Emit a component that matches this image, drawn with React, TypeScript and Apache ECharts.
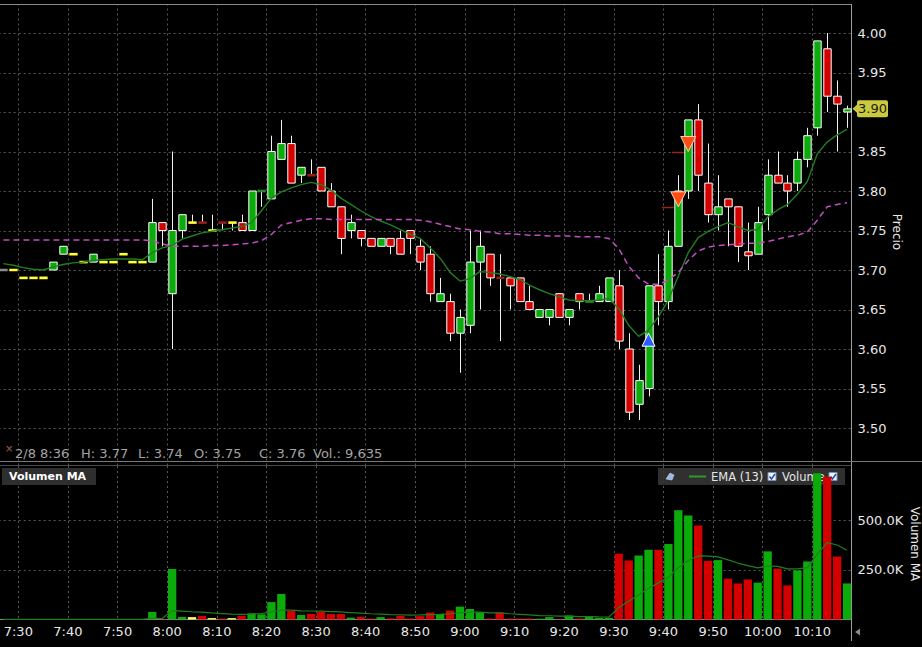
import React, { useEffect, useRef } from 'react';
import * as echarts from 'echarts';

// ---- data (2-minute candles, first one starts 7:26) ----
const START_MIN = 446; // 7:26
const STEP = 2;
const infoDate = '2/8';
const infoIndex = 35; // 8:36 candle shown in the info line

const open = [3.70,3.70,3.69,3.69,3.69,3.70,3.72,3.72,3.71,3.71,
  3.71,3.71,3.72,3.71,3.71,3.71,3.76,3.67,3.75,3.76,
  3.76,3.75,3.76,3.76,3.76,3.75,3.80,3.79,3.84,3.86,
  3.82,3.82,3.83,3.80,3.78,3.75,3.75,3.74,3.73,3.74,
  3.74,3.75,3.73,3.72,3.66,3.66,3.62,3.63,3.71,3.72,
  3.69,3.69,3.69,3.66,3.64,3.64,3.67,3.64,3.67,3.66,
  3.66,3.66,3.68,3.60,3.53,3.55,3.68,3.66,3.73,3.80,
  3.89,3.81,3.77,3.79,3.78,3.723,3.72,3.77,3.82,3.81,
  3.81,3.84,3.88,3.98,3.92,3.90];
const high = [3.70,3.70,3.69,3.69,3.69,3.71,3.73,3.72,3.71,3.72,
  3.71,3.71,3.72,3.71,3.71,3.79,3.76,3.85,3.77,3.77,
  3.77,3.77,3.76,3.76,3.77,3.80,3.80,3.87,3.89,3.87,
  3.83,3.84,3.83,3.81,3.78,3.77,3.75,3.74,3.74,3.74,
  3.75,3.75,3.74,3.73,3.69,3.67,3.65,3.75,3.75,3.72,
  3.72,3.69,3.69,3.68,3.65,3.65,3.67,3.65,3.67,3.67,
  3.68,3.69,3.70,3.62,3.58,3.68,3.72,3.75,3.82,3.89,
  3.91,3.86,3.82,3.79,3.78,3.76,3.78,3.84,3.85,3.82,
  3.85,3.88,3.99,4.00,3.94,3.908];
const low = [3.70,3.70,3.69,3.69,3.69,3.70,3.72,3.72,3.71,3.71,
  3.71,3.71,3.72,3.71,3.71,3.71,3.73,3.60,3.74,3.76,
  3.76,3.75,3.75,3.75,3.75,3.75,3.78,3.79,3.84,3.81,
  3.81,3.82,3.80,3.78,3.72,3.74,3.73,3.73,3.73,3.72,
  3.72,3.72,3.70,3.66,3.66,3.61,3.57,3.62,3.65,3.68,
  3.61,3.65,3.66,3.65,3.64,3.63,3.64,3.63,3.65,3.66,
  3.66,3.66,3.60,3.51,3.51,3.54,3.63,3.65,3.73,3.79,
  3.80,3.76,3.75,3.73,3.71,3.70,3.72,3.75,3.81,3.78,
  3.80,3.83,3.87,3.90,3.85,3.88];
const close = [3.70,3.70,3.69,3.69,3.69,3.71,3.73,3.72,3.71,3.72,
  3.71,3.71,3.72,3.71,3.71,3.76,3.75,3.75,3.77,3.76,
  3.76,3.75,3.76,3.76,3.75,3.80,3.80,3.85,3.86,3.81,
  3.83,3.82,3.80,3.78,3.74,3.76,3.74,3.73,3.74,3.73,
  3.72,3.74,3.71,3.67,3.67,3.62,3.64,3.71,3.73,3.69,
  3.69,3.68,3.66,3.65,3.65,3.65,3.64,3.65,3.66,3.66,
  3.67,3.69,3.61,3.52,3.56,3.68,3.66,3.73,3.80,3.89,
  3.82,3.77,3.78,3.78,3.73,3.718,3.76,3.82,3.81,3.80,
  3.84,3.87,3.99,3.92,3.91,3.904];
const volume = [0,0,0,0,0,800,800,0,0,800,
  0,0,0,0,0,38000,1500,255000,13000,12000,
  18000,7000,5000,7000,19000,31000,26000,88000,129000,43000,
  23000,28000,38000,28000,28000,9635,14000,5000,12000,6000,
  19000,5000,17000,35000,28000,45000,65000,53000,36000,5000,
  36000,5000,5000,5000,4000,12000,1500,20000,5000,15000,
  8000,8000,332000,298000,323000,352000,352000,381000,551000,525000,
  474000,296000,300000,206000,182000,202000,186000,344000,257000,172000,
  248000,293000,738000,721000,318000,182000];
const volumeEma = [1000,1000,1000,1000,1000,1000,1000,1000,1000,1000,
  1000,1000,1000,1000,1000,6000,5000,45000,42000,39000,
  37000,33000,30000,27000,26000,27000,30000,38000,48000,47000,
  44000,43000,42000,40000,38000,35000,32000,29000,27000,25000,
  24000,22000,23000,25000,26000,29000,34000,37000,37000,33000,
  33000,29000,26000,23000,20000,19000,17000,17000,15000,15000,
  13000,12000,60000,92000,124000,158000,185000,213000,261000,298000,
  321000,320000,316000,301000,285000,272000,261000,270000,268000,256000,
  256000,262000,330000,388000,376000,350000];
const priceEma = [3.708,3.706,3.703,3.701,3.700,3.704,3.707,3.709,3.710,3.712,
  3.713,3.714,3.714,3.714,3.713,3.722,3.728,3.731,3.739,3.743,
  3.747,3.749,3.751,3.753,3.755,3.760,3.775,3.791,3.799,3.804,
  3.808,3.811,3.808,3.801,3.791,3.783,3.775,3.768,3.762,3.757,
  3.751,3.745,3.740,3.728,3.715,3.697,3.686,3.689,3.698,3.697,
  3.695,3.692,3.688,3.681,3.675,3.670,3.666,3.662,3.661,3.661,
  3.662,3.664,3.651,3.630,3.616,3.624,3.641,3.662,3.692,3.722,
  3.741,3.749,3.755,3.760,3.755,3.750,3.751,3.767,3.776,3.783,
  3.796,3.812,3.847,3.862,3.871,3.878];
const slowAverage = [3.738,3.738,3.738,3.738,3.738,3.738,3.738,3.738,3.738,3.738,
  3.738,3.738,3.738,3.738,3.738,3.737,3.733,3.730,3.730,3.730,
  3.730,3.731,3.731,3.732,3.733,3.734,3.737,3.745,3.757,3.760,
  3.763,3.765,3.765,3.764,3.764,3.764,3.764,3.764,3.764,3.764,
  3.764,3.764,3.763,3.761,3.758,3.755,3.752,3.751,3.749,3.748,
  3.746,3.746,3.745,3.744,3.744,3.743,3.743,3.743,3.742,3.742,
  3.742,3.740,3.727,3.705,3.690,3.682,3.682,3.687,3.697,3.712,
  3.724,3.729,3.731,3.732,3.733,3.734,3.734,3.736,3.739,3.742,
  3.744,3.748,3.763,3.780,3.783,3.785];
// candles where open == close: tone of the dash
const flatTone: Record<number, string> = {
  0: 'gray', 1: 'yellow', 2: 'yellow', 3: 'yellow', 4: 'yellow', 7: 'yellow', 8: 'yellow',
  10: 'yellow', 11: 'yellow', 12: 'yellow', 13: 'yellow', 14: 'yellow', 19: 'yellow',
  20: 'darkred', 21: 'yellow', 22: 'darkred', 23: 'yellow', 26: 'darkgreen', 31: 'darkred',
  50: 'darkred', 59: 'darkgreen',
};
const buySignals = [[65, 3.62]];
const sellSignals = [[68, 3.78], [69, 3.85]];
const priceTicks = [3.5, 3.55, 3.6, 3.65, 3.7, 3.75, 3.8, 3.85, 3.9, 3.95, 4.0];
const volumeTicks = [250000, 500000];
const legendItems = ['EMA (13)', 'Volume'];

// ---- styling / layout ----
const GREEN = '#0aab0a';
const RED = '#d40000';
const TONE_CODE: Record<string, number> = { yellow: 1, darkred: 2, darkgreen: 3, gray: 4 };
const TONE_COLOR = ['', '#ffff33', '#9c1a1a', '#238a23', '#8c8c8c'];
const TONE_VOL = ['', '#ffff66', RED, GREEN, '#888888'];
const FONT = 'DejaVu Sans';
const X_MIN = 440;
const PX_PER_MIN = 4.9625;
const GRID_LEFT = 18.3 - 10 * PX_PER_MIN;
const GRID_RIGHT_PX = 851.5;
const GRID_W = GRID_RIGHT_PX - GRID_LEFT;
const X_MAX = X_MIN + GRID_W / PX_PER_MIN;

const centers = open.map((_, i) => START_MIN + STEP * i + STEP / 2);
const lastClose = close[close.length - 1];
const fmtTime = (m: number) => `${Math.floor(m / 60)}:${String(m % 60).padStart(2, '0')}`;
const fmtPrice = (v: number) => v.toFixed(2);

const toneOf = (i: number) => (flatTone[i] ? TONE_CODE[flatTone[i]] : 0);

function buildOption(): any {
  const candleData = centers.map((t, i) => [t, open[i], close[i], low[i], high[i], toneOf(i)]);
  const volData = centers.map((t, i) => {
    const tone = toneOf(i);
    return [t, volume[i], tone ? tone : close[i] >= open[i] ? 5 : 6];
  });
  const gridLineRender = (params: any, api: any) => {
    const p = api.coord([api.value(0), api.value(1)]);
    const y = Math.round(p[1]) + 0.5;
    const cs = params.coordSys;
    return {
      type: 'line',
      shape: { x1: cs.x, y1: y, x2: cs.x + cs.width, y2: y },
      style: { stroke: '#585858', lineWidth: 1, lineDash: [2, 3] },
    };
  };
  const xCommon = {
    type: 'value', min: X_MIN, max: X_MAX, interval: 10,
    axisTick: { show: false },
    splitLine: { show: true, lineStyle: { color: '#585858', width: 1, type: [2, 3] } },
  };
  return {
    animation: false,
    backgroundColor: '#000000',
    grid: [
      { left: GRID_LEFT, top: -6.5, width: GRID_W, height: 474, outerBoundsMode: 'none', containLabel: false },
      { left: GRID_LEFT, top: 466, width: GRID_W, height: 153.5, outerBoundsMode: 'none', containLabel: false },
    ],
    xAxis: [
      { ...xCommon, gridIndex: 0, axisLine: { show: false }, axisLabel: { show: false } },
      {
        ...xCommon, gridIndex: 1,
        axisLine: { show: true, lineStyle: { color: '#8a8a8a' } },
        axisLabel: {
          color: '#e8e8e8', fontSize: 13, fontFamily: FONT, margin: 5,
          formatter: (v: number) => {
            const m = Math.round(v);
            if (Math.abs(v - m) > 1e-6 || m % 10 !== 0 || m < 446 || m > 617) return '';
            return fmtTime(m);
          },
        },
      },
    ],
    yAxis: [
      {
        type: 'value', gridIndex: 0, position: 'right', min: 3.45, max: 4.05, interval: 0.05,
        axisLine: { show: true, lineStyle: { color: '#a0a0a0' } },
        axisTick: { show: false }, splitLine: { show: false },
        axisLabel: {
          color: '#e8e8e8', fontSize: 13, fontFamily: FONT, margin: 6,
          // the last-price tag covers the tick label next to it
          formatter: (v: number) => (v > 3.47 && v < 4.03 && Math.abs(v - lastClose) > 0.02 ? fmtPrice(v) : ''),
        },
      },
      {
        type: 'value', gridIndex: 1, position: 'right', min: 0, max: 775000, interval: 250000,
        axisLine: { show: true, lineStyle: { color: '#a0a0a0' } },
        axisTick: { show: false }, splitLine: { show: false },
        axisLabel: {
          color: '#e8e8e8', fontSize: 13, fontFamily: FONT, margin: 6,
          formatter: (v: number) => (volumeTicks.some((t) => Math.abs(t - v) < 1) ? (v / 1000).toFixed(1) + 'K' : ''),
        },
      },
    ],
    series: [
      {
        type: 'custom', xAxisIndex: 0, yAxisIndex: 0, z: 1, silent: true,
        data: priceTicks.map((v) => [X_MIN, v]), encode: { x: 0, y: 1 },
        renderItem: gridLineRender,
      },
      {
        type: 'custom', xAxisIndex: 1, yAxisIndex: 1, z: 1, silent: true,
        data: volumeTicks.map((v) => [X_MIN, v]), encode: { x: 0, y: 1 },
        renderItem: gridLineRender,
      },
      {
        type: 'custom', name: 'Precio', xAxisIndex: 0, yAxisIndex: 0, z: 2, silent: true,
        data: candleData, encode: { x: 0, y: [1, 2, 3, 4] },
        renderItem: (params: any, api: any) => {
          const t = api.value(0);
          const o = api.value(1), c = api.value(2), l = api.value(3), h = api.value(4);
          const tone = api.value(5);
          const po = api.coord([t, o]);
          const pc = api.coord([t, c]);
          const pl = api.coord([t, l]);
          const ph = api.coord([t, h]);
          const slot = api.size([STEP, 0])[0];
          const x = Math.round(po[0]) + 0.5;
          const children: any[] = [];
          if (Math.abs(ph[1] - pl[1]) > 0.5) {
            children.push({ type: 'line', shape: { x1: x, y1: ph[1], x2: x, y2: pl[1] }, style: { stroke: '#f2f2f2', lineWidth: 1 } });
          }
          if (tone > 0) {
            const w = slot * 0.84;
            children.push({ type: 'rect', shape: { x: x - w / 2, y: po[1] - 1.3, width: w, height: 2.6 }, style: { fill: TONE_COLOR[tone] } });
          } else {
            const bw = slot * 0.745;
            const top = Math.min(po[1], pc[1]);
            const hgt = Math.max(1.5, Math.abs(po[1] - pc[1]));
            children.push({
              type: 'rect', shape: { x: x - bw / 2, y: top, width: bw, height: hgt },
              style: { fill: c > o ? GREEN : RED, stroke: '#ffffff', lineWidth: 1 },
            });
          }
          return { type: 'group', children };
        },
      },
      {
        type: 'line', xAxisIndex: 0, yAxisIndex: 0, z: 3, silent: true, showSymbol: false, symbol: 'none',
        data: centers.map((t, i) => [t, priceEma[i]]),
        lineStyle: { color: '#1f7f1f', width: 1.4 },
      },
      {
        type: 'line', xAxisIndex: 0, yAxisIndex: 0, z: 3, silent: true, showSymbol: false, symbol: 'none',
        data: centers.map((t, i) => [t, slowAverage[i]]),
        lineStyle: { color: '#c24cc2', width: 1.5, type: [6, 4] },
      },
      {
        type: 'custom', xAxisIndex: 0, yAxisIndex: 0, z: 3, silent: true,
        data: sellSignals.map(([i, p]) => [centers[i], p]), encode: { x: 0, y: 1 },
        renderItem: (params: any, api: any) => {
          const a = api.coord([api.value(0) - 3.3, api.value(1)]);
          const b = api.coord([api.value(0) - 0.9, api.value(1)]);
          const y = Math.round(a[1]) + 0.5;
          return { type: 'line', shape: { x1: a[0], y1: y, x2: b[0], y2: y }, style: { stroke: '#9a2412', lineWidth: 1.5 } };
        },
      },
      {
        type: 'scatter', xAxisIndex: 0, yAxisIndex: 0, z: 4, silent: true,
        data: buySignals.map(([i, p]) => [centers[i], p]),
        symbol: 'triangle', symbolSize: [13, 13], symbolOffset: [0, 6.5],
        itemStyle: { color: '#2a5cff', borderColor: '#ffffff', borderWidth: 1, opacity: 1 },
      },
      {
        type: 'scatter', xAxisIndex: 0, yAxisIndex: 0, z: 4, silent: true,
        data: sellSignals.map(([i, p]) => [centers[i], p]),
        symbol: 'triangle', symbolRotate: 180, symbolSize: [15, 15], symbolOffset: [0, -7.5],
        itemStyle: { color: '#ff4d12', borderColor: '#ffd2b8', borderWidth: 1, opacity: 1 },
      },
      {
        type: 'custom', name: 'Volume', xAxisIndex: 1, yAxisIndex: 1, z: 2, silent: true,
        data: volData, encode: { x: 0, y: 1 },
        renderItem: (params: any, api: any) => {
          const t = api.value(0);
          const v = api.value(1);
          const code = api.value(2);
          const p0 = api.coord([t - STEP / 2, v]);
          const p1 = api.coord([t + STEP / 2, 0]);
          const color = code === 5 ? GREEN : code === 6 ? RED : TONE_VOL[code];
          return {
            type: 'rect',
            shape: { x: p0[0] + 0.8, y: p0[1], width: p1[0] - p0[0] - 1.6, height: p1[1] - p0[1] },
            style: { fill: color },
          };
        },
      },
      {
        type: 'line', name: 'EMA (13)', xAxisIndex: 1, yAxisIndex: 1, z: 3, silent: true, showSymbol: false, symbol: 'none',
        data: centers.map((t, i) => [t, volumeEma[i]]),
        lineStyle: { color: '#1f7f1f', width: 1.2 },
      },
    ],
  };
}

function buildGraphics(tagY: number): any[] {
  const i = infoIndex;
  const infoParts = [
    `${infoDate} ${fmtTime(START_MIN + STEP * i)}`,
    `H: ${fmtPrice(high[i])}`,
    `L: ${fmtPrice(low[i])}`,
    `O: ${fmtPrice(open[i])}`,
    `C: ${fmtPrice(close[i])}`,
    `Vol.: ${volume[i].toLocaleString('en-US')}`,
  ];
  const infoX = [15, 81, 138, 194, 259, 313];
  const els: any[] = [
    { type: 'rect', z: 100, shape: { x: 0, y: 0, width: 922, height: 4 }, style: { fill: '#000' } },
    { type: 'line', z: 101, shape: { x1: 0, y1: 4.5, x2: GRID_RIGHT_PX, y2: 4.5 }, style: { stroke: '#8a8a8a', lineWidth: 1 } },
    { type: 'line', z: 101, shape: { x1: 0, y1: 461.5, x2: 922, y2: 461.5 }, style: { stroke: '#7a7a7a', lineWidth: 1 } },
    { type: 'line', z: 101, shape: { x1: 0, y1: 465.5, x2: GRID_RIGHT_PX, y2: 465.5 }, style: { stroke: '#4a4a4a', lineWidth: 1 } },
    { type: 'line', z: 101, shape: { x1: GRID_RIGHT_PX, y1: 619, x2: GRID_RIGHT_PX, y2: 641 }, style: { stroke: '#a0a0a0', lineWidth: 1 } },
    { type: 'text', z: 101, x: 5, y: 448, style: { text: '×', fill: '#7a5040', font: `bold 10px ${FONT}`, textVerticalAlign: 'middle' } },
    ...infoParts.map((s, k) => ({
      type: 'text', z: 101, x: infoX[k], y: 453.5,
      style: { text: s, fill: '#a4a4a4', font: `13px ${FONT}`, textVerticalAlign: 'middle' },
    })),
    // pane header
    { type: 'rect', z: 1, shape: { x: 2, y: 468, width: 94, height: 17 }, style: { fill: '#2e2e2e' } },
    { type: 'text', z: 1, x: 9, y: 476.5, style: { text: 'Volumen MA', fill: '#ffffff', font: `bold 11px ${FONT}`, textVerticalAlign: 'middle' } },
    // legend
    { type: 'rect', z: 1, shape: { x: 658, y: 468, width: 187, height: 17 }, style: { fill: 'rgba(52,52,52,0.92)' } },
    { type: 'polygon', z: 1, shape: { points: [[666, 479], [670, 473], [674, 475], [672, 480]] }, style: { fill: '#9db8e6', stroke: '#d8e4f8', lineWidth: 0.5 } },
    { type: 'line', z: 1, shape: { x1: 689, y1: 476.5, x2: 706, y2: 476.5 }, style: { stroke: '#2a9a2a', lineWidth: 2 } },
    { type: 'text', z: 1, x: 711, y: 476.5, style: { text: legendItems[0], fill: '#e4e4e4', font: `11.5px ${FONT}`, textVerticalAlign: 'middle' } },
    { type: 'text', z: 1, x: 782, y: 476.5, style: { text: legendItems[1], fill: '#e4e4e4', font: `11.5px ${FONT}`, textVerticalAlign: 'middle' } },
  ];
  [768, 829].forEach((cx) => {
    els.push({ type: 'rect', z: 1, shape: { x: cx, y: 472.5, width: 8, height: 8 }, style: { fill: '#eef2fa', stroke: '#7890bb', lineWidth: 1 } });
    els.push({ type: 'polyline', z: 1, shape: { points: [[cx + 1.5, 476.5], [cx + 3.5, 479], [cx + 7, 474]] }, style: { stroke: '#1f4fa8', lineWidth: 1.5, fill: null } });
  });
  // axis names
  els.push({ type: 'text', z: 101, x: 897, y: 232, rotation: -Math.PI / 2, style: { text: 'Precio', fill: '#e8e8e8', font: `12px ${FONT}`, textAlign: 'center', textVerticalAlign: 'middle' } });
  els.push({ type: 'text', z: 101, x: 915, y: 544, rotation: -Math.PI / 2, style: { text: 'Volumen MA', fill: '#e8e8e8', font: `12px ${FONT}`, textAlign: 'center', textVerticalAlign: 'middle' } });
  // last price tag
  els.push({ type: 'polygon', z: 101, shape: { points: [[852.5, tagY], [858, tagY - 5], [858, tagY + 5]] }, style: { fill: '#caca3e' } });
  els.push({ type: 'rect', z: 101, shape: { x: 857, y: tagY - 8.5, width: 31, height: 17, r: 2 }, style: { fill: '#caca3e' } });
  els.push({ type: 'text', z: 102, x: 872.5, y: tagY, style: { text: fmtPrice(lastClose), fill: '#1c1c1c', font: `13px ${FONT}`, textAlign: 'center', textVerticalAlign: 'middle' } });
  // small scroll arrow
  els.push({ type: 'polygon', z: 101, shape: { points: [[855, 632], [860, 628.5], [860, 635.5]] }, style: { fill: '#8a8a8a' } });
  return els;
}

export default function App() {
  const ref = useRef<HTMLDivElement>(null);
  useEffect(() => {
    document.body.style.margin = '0';
    document.body.style.background = '#000';
    const chart = echarts.init(ref.current as HTMLDivElement, null, { renderer: 'svg' });
    chart.setOption(buildOption());
    const tagY = chart.convertToPixel({ yAxisIndex: 0 } as any, lastClose) as unknown as number;
    chart.setOption({ graphic: buildGraphics(tagY) });
    return () => chart.dispose();
  }, []);
  return <div ref={ref} style={{ width: 922, height: 647, background: '#000' }} />;
}
